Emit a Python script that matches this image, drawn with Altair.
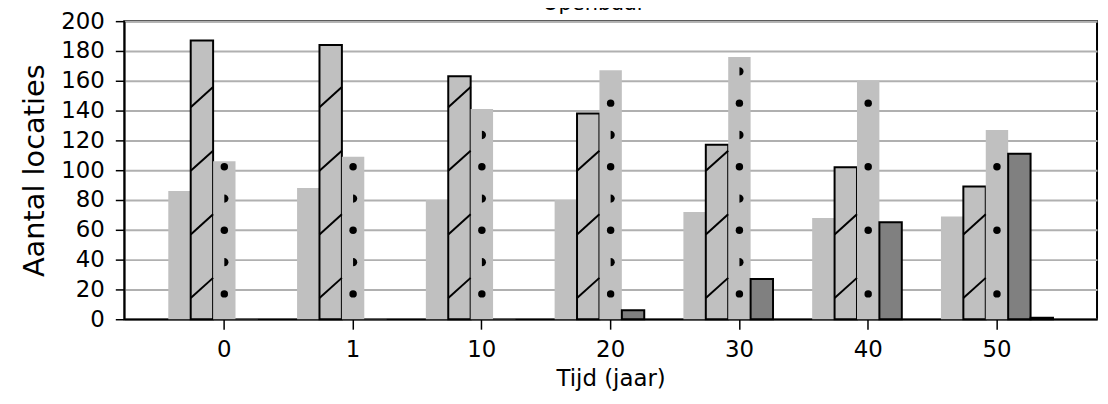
import altair as alt
import pandas as pd

groups = ["0", "1", "10", "20", "30", "40", "50"]
series = ["serie 1", "serie 2", "serie 3", "serie 4", "serie 5"]
light = [86, 88, 80, 80, 72, 68, 69]
hatched = [187, 184, 163, 138, 117, 102, 89]
dotted = [106, 109, 141, 167, 176, 160, 127]
dark = [0.3, 0.3, 0.3, 6, 27, 65, 111]
fifth = [0, 0, 0, 0, 0, 0, 1]

fills = ["#c0c0c0", "#c0c0c0", "#c0c0c0", "#808080", "#000000"]
strokes = ["transparent", "#000000", "transparent", "#000000", "#000000"]

values_by_series = [light, hatched, dotted, dark, fifth]
rows = []
for s, vals in zip(series, values_by_series):
    for g, v in zip(groups, vals):
        rows.append({"t": g, "s": s, "v": v})
bars_df = pd.DataFrame(rows)

# fill patterns (hatching / dots) derived from the bar heights
period = 64 / 1.5
hatch_rows, dot_rows, half_rows = [], [], []
for i, g in enumerate(groups):
    k = 0
    while 21 + k * period + 7 <= hatched[i]:
        hatch_rows.append({"t": g, "s": series[1], "v": 21 + k * period})
        k += 1
    k = 0
    while 17 + k * period + 2.7 <= dotted[i]:
        dot_rows.append({"t": g, "s": series[2], "v": 17 + k * period})
        k += 1
    k = 0
    while i <= 4 and 38.3 + k * period + 2.7 <= dotted[i]:
        half_rows.append({"t": g, "s": series[2], "v": 38.3 + k * period})
        k += 1
hatch_df = pd.DataFrame(hatch_rows)
dot_df = pd.DataFrame(dot_rows)
half_df = pd.DataFrame(half_rows)

FONT = "DejaVu Sans"

x_enc = alt.X(
    "t:N",
    sort=groups,
    scale=alt.Scale(domain=groups, paddingInner=0.13, paddingOuter=0.342),
    axis=alt.Axis(
        title="Tijd (jaar)",
        labelAngle=0,
        tickSize=10,
        labelPadding=9,
        titlePadding=7,
        labelFont=FONT,
        labelFontSize=23,
        titleFont=FONT,
        titleFontSize=23,
        titleFontWeight="normal",
        labelColor="black",
        titleColor="black",
        domainColor="black",
        domainWidth=1.5,
        tickColor="black",
        tickWidth=1.5,
        grid=False,
    ),
)
xo_enc = alt.XOffset(
    "s:N", sort=series, scale=alt.Scale(domain=series, paddingInner=0, paddingOuter=0)
)
y_enc = alt.Y(
    "v:Q",
    scale=alt.Scale(domain=[0, 200], nice=False, zero=True),
    axis=alt.Axis(
        title="Aantal locaties",
        values=list(range(0, 201, 20)),
        tickSize=9,
        labelPadding=11,
        titlePadding=11,
        labelOverlap=False,
        labelFont=FONT,
        labelFontSize=23,
        titleFont=FONT,
        titleFontSize=29,
        titleFontWeight="normal",
        labelColor="black",
        titleColor="black",
        domainColor="black",
        domainWidth=1.5,
        tickColor="black",
        tickWidth=1.5,
        grid=True,
        gridColor="#b0b0b0",
        gridWidth=2,
    ),
)

bars = alt.Chart(bars_df).mark_bar().encode(
    x=x_enc,
    xOffset=xo_enc,
    y=y_enc,
    fill=alt.Fill("s:N", scale=alt.Scale(domain=series, range=fills), legend=None),
    stroke=alt.Stroke("s:N", scale=alt.Scale(domain=series, range=strokes), legend=None),
    strokeWidth=alt.condition("datum.v >= 1", alt.value(2), alt.value(0)),
)

hatch = alt.Chart(hatch_df).mark_point(
    shape="M-1,0.9L1,-0.9", filled=False, color="black", strokeWidth=2, size=506, opacity=1
).encode(x=x_enc, xOffset=xo_enc, y=y_enc)

dots = alt.Chart(dot_df).mark_point(
    shape="circle", filled=True, color="black", size=56, opacity=1, xOffset=3
).encode(x=x_enc, xOffset=xo_enc, y=y_enc)

halves = alt.Chart(half_df).mark_point(
    shape="M0,-1A1,1,0,0,1,0,1Z", filled=True, color="black", size=70, opacity=1, xOffset=-11.2
).encode(x=x_enc, xOffset=xo_enc, y=y_enc)

chart = (
    alt.layer(bars, hatch, dots, halves)
    .properties(
        width=979,
        height=300,
        autosize=alt.AutoSizeParams(type="none"),
        padding={"left": 117, "top": 12, "right": 3, "bottom": 74},
        title=alt.TitleParams(
            text="Openbaar",
            font=FONT,
            fontSize=21,
            fontWeight="normal",
            color="black",
            anchor="middle",
            baseline="alphabetic",
            offset=-21,
            dx=-17,
            frame="group",
        ),
    )
    .configure_view(stroke="black", strokeWidth=2)
)

chart.save("out.html", embed_options={"renderer": "svg", "actions": False})
